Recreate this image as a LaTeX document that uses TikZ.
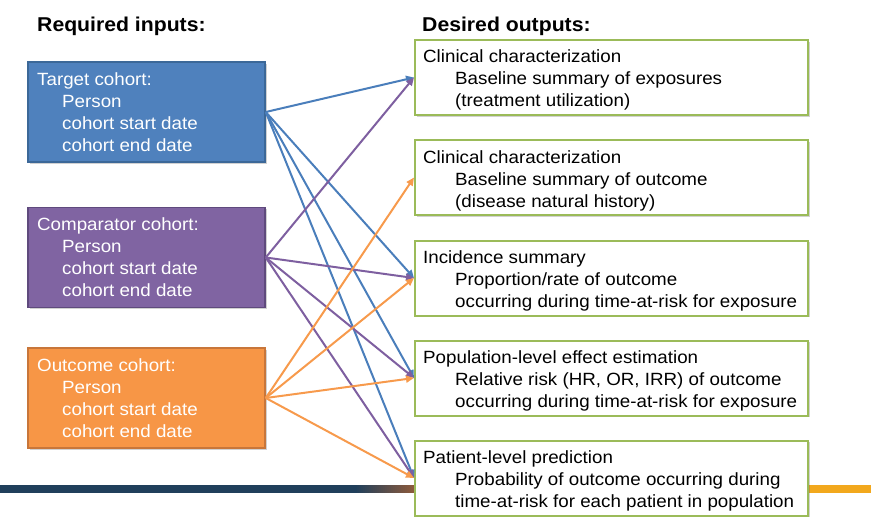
\documentclass[tikz,border=0pt]{standalone}
\usepackage{fontspec}
\setmainfont[FakeStretch=1.06]{Liberation Sans}
\usetikzlibrary{arrows.meta,shadows}
\definecolor{tgtfill}{HTML}{4F81BD}
\definecolor{tgtline}{HTML}{3C6898}
\definecolor{cmpfill}{HTML}{8064A2}
\definecolor{cmpline}{HTML}{5F4A7D}
\definecolor{outfill}{HTML}{F79646}
\definecolor{outline}{HTML}{C8763A}
\definecolor{grn}{HTML}{9BBB59}
\definecolor{ablue}{HTML}{4A7EBB}
\definecolor{apurple}{HTML}{7E5FA0}
\definecolor{aorange}{HTML}{F79A4C}
\definecolor{navy}{HTML}{203F5B}
\definecolor{brownbar}{HTML}{8C5A3C}
\definecolor{goldbar}{HTML}{F2A81D}
\newcommand\firstln{\rule{0pt}{14pt}}
\begin{document}
\begin{tikzpicture}[x=1pt,y=-1pt,
  shad/.style={drop shadow={shadow xshift=1.5pt,shadow yshift=-1.5pt,opacity=0.3,fill=black!60}},
  inbox/.style={draw, line width=1.5pt, minimum width=237pt, minimum height=100pt, inner sep=0, shad},
  outbox/.style={draw=grn, fill=white, line width=2pt, minimum width=393pt, minimum height=75pt, inner sep=0, shad},
  txt/.style={anchor=north west, inner sep=0, align=left, font=\fontsize{17.7}{22}\selectfont},
  intxt/.style={txt, text=white},
  head/.style={anchor=base west, inner sep=0, font=\bfseries\fontsize{20}{24}\selectfont},
  conn/.style={line width=2pt, -{Triangle[length=8pt,width=7pt]}}]
\useasboundingbox (0,0) rectangle (871,520);
% bottom bar
\fill[navy] (0,485) rectangle (356,493);
\foreach \i in {0,...,29}{
  \pgfmathsetmacro\pct{100-\i*100/29}
  \fill[navy!\pct!brownbar] (355+\i*2,485) rectangle (357.6+\i*2,493);
}
\fill[goldbar] (808,485) rectangle (871,493);
% headings
\node[head] (h1) at (37,31.5) {Required inputs:};
\node[head] (h2) at (422,31.5) {Desired outputs:};
% input boxes
\node[inbox, fill=tgtfill, draw=tgtline] (t) at (146.5,112) {};
\node[inbox, fill=cmpfill, draw=cmpline] (c) at (146.5,257.5) {};
\node[inbox, fill=outfill, draw=outline] (oc) at (146.5,398) {};
% output boxes
\node[outbox] (o1) at (611.5,77.5) {};
\node[outbox] (o2) at (611.5,177.5) {};
\node[outbox] (o3) at (611.5,278) {};
\node[outbox] (o4) at (611.5,378) {};
\node[outbox] (o5) at (611.5,478) {};
% input texts
\node[intxt] (tt) at (37,71.3) {\firstln Target cohort:\\\hspace*{25pt}Person\\\hspace*{25pt}cohort start date\\\hspace*{25pt}cohort end date};
\node[intxt] (ct) at (37,216.3) {\firstln Comparator cohort:\\\hspace*{25pt}Person\\\hspace*{25pt}cohort start date\\\hspace*{25pt}cohort end date};
\node[intxt] (oct) at (37,357.3) {\firstln Outcome cohort:\\\hspace*{25pt}Person\\\hspace*{25pt}cohort start date\\\hspace*{25pt}cohort end date};
% output texts
\node[txt] (o1t) at (423,48.3) {\firstln Clinical characterization\\\hspace*{32pt}Baseline summary of exposures\\\hspace*{32pt}(treatment utilization)};
\node[txt] (o2t) at (423,149.3) {\firstln Clinical characterization\\\hspace*{32pt}Baseline summary of outcome\\\hspace*{32pt}(disease natural history)};
\node[txt] (o3t) at (423,249.5) {\firstln Incidence summary\\\hspace*{32pt}Proportion/rate of outcome\\\hspace*{32pt}occurring during time-at-risk for exposure};
\node[txt] (o4t) at (423,349.5) {\firstln Population-level effect estimation\\\hspace*{32pt}Relative risk (HR, OR, IRR) of outcome\\\hspace*{32pt}occurring during time-at-risk for exposure};
\node[txt] (o5t) at (423,449.5) {\firstln Patient-level prediction\\\hspace*{32pt}Probability of outcome occurring during\\\hspace*{32pt}time-at-risk for each patient in population};
% connectors
\draw[conn, ablue] (t.east) -- (o1.west);
\draw[conn, ablue] (t.east) -- (o3.west);
\draw[conn, ablue] (t.east) -- (o4.west);
\draw[conn, ablue] (t.east) -- (o5.west);
\draw[conn, apurple] (c.east) -- (o1.west);
\draw[conn, apurple] (c.east) -- (o3.west);
\draw[conn, apurple] (c.east) -- (o4.west);
\draw[conn, apurple] (c.east) -- (o5.west);
\draw[conn, aorange] (oc.east) -- (o2.west);
\draw[conn, aorange] (oc.east) -- (o3.west);
\draw[conn, aorange] (oc.east) -- (o4.west);
\draw[conn, aorange] (oc.east) -- (o5.west);
\end{tikzpicture}
\end{document}
